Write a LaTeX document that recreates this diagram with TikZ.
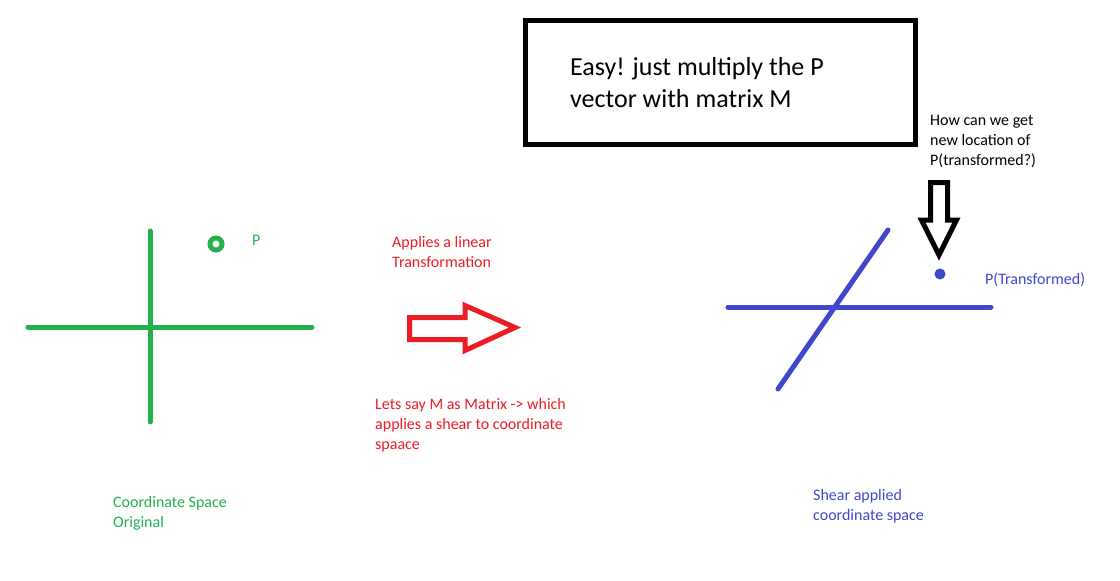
\documentclass[tikz,border=0pt]{standalone}
\usepackage{fontspec}
\setmainfont{Carlito}
\definecolor{pgreen}{HTML}{22B14C}
\definecolor{pred}{HTML}{ED1C24}
\definecolor{pblue}{HTML}{3F48CC}
\tikzset{
  small/.style={font=\fontsize{16}{20}\selectfont, inner sep=0pt, anchor=west, align=left},
  big/.style={font=\fontsize{26}{32}\selectfont, inner sep=0pt, anchor=west, align=left},
  axis/.style={line width=5pt, line cap=round},
  blockarrow/.style={line width=5pt, line join=miter},
}
\begin{document}
\begin{tikzpicture}[x=1pt,y=-1pt]
\useasboundingbox (0,0) rectangle (1120,581);
% original space
\coordinate (gl) at (28,327);
\coordinate (gr) at (312,327);
\coordinate (gt) at (150,231);
\coordinate (gb) at (150,422);
\draw[axis,pgreen] (gl) -- (gr);
\draw[axis,pgreen] (gt) -- (gb);
\node[draw=pgreen, line width=5pt, circle, minimum size=12pt, inner sep=0pt] (pt) at (216,244) {};
\node[small, text=pgreen] (plabel) at (252,240) {P};
\node[small, text=pgreen] (orig) at (113,513) {Coordinate Space\\Original};
% transformation
\node[small, text=pred] (lin) at (392,252) {Applies a linear\\Transformation};
\draw[blockarrow, pred] (409.5,317.5) -- (465,317.5) -- (465,305.5) -- (515,327.5) -- (465,350.5) -- (465,339.5) -- (409.5,339.5) -- cycle;
\node[small, text=pred] (mat) at (375,425) {Lets say M as Matrix -> which\\applies a shear to coordinate\\spaace};
% box
\draw[line width=5pt] (525.5,20.5) rectangle (915.5,144.5);
\node[big] (easy) at (570,83) {Easy! just multiply the P\\vector with matrix M};
% sheared space
\coordinate (bl) at (728,307);
\coordinate (br) at (991,307);
\coordinate (dl) at (778,389);
\coordinate (dr) at (888,230);
\draw[axis,pblue] (bl) -- (br);
\draw[axis,pblue] (dl) -- (dr);
\node[fill=pblue, circle, minimum size=11pt, inner sep=0pt] (tp) at (940,274) {};
\node[small, text=pblue] (tlabel) at (985,280) {P(Transformed)};
\node[small] (how) at (930,141) {How can we get\\new location of\\P(transformed?)};
\draw[blockarrow] (930.5,182.5) -- (947.5,182.5) -- (947.5,220) -- (956.5,220) -- (939,255) -- (921.5,220) -- (930.5,220) -- cycle;
\node[small, text=pblue] (shear) at (813,506) {Shear applied\\coordinate space};
\end{tikzpicture}
\end{document}
